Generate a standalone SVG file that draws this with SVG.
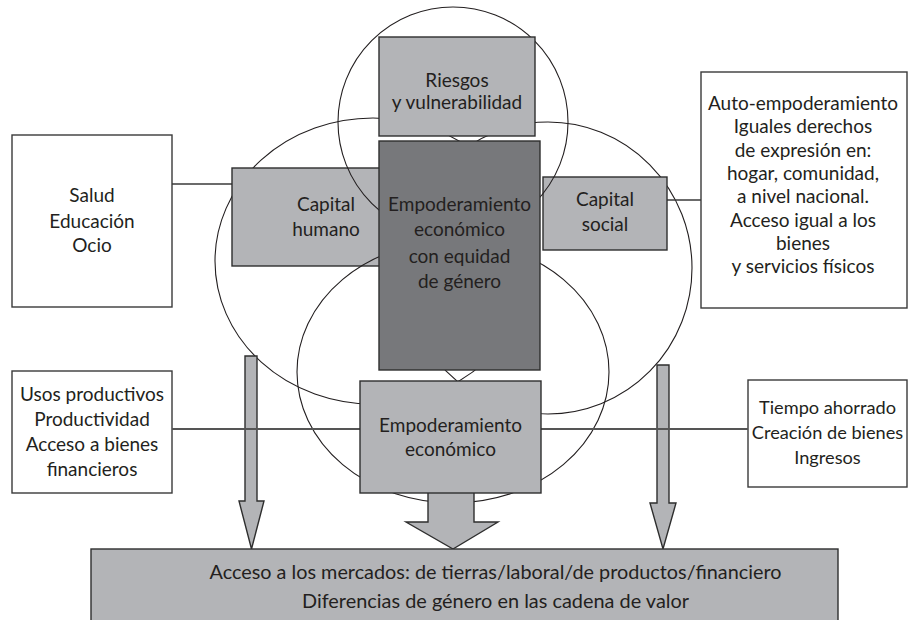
<svg xmlns="http://www.w3.org/2000/svg" width="922" height="620" viewBox="0 0 922 620">
<style>
.t{font-family:Lato,"Liberation Sans",sans-serif;font-size:19px;fill:#231f20;text-anchor:middle}
.s{font-size:18.2px}
.wb{fill:#fff;stroke:#3a3a3a;stroke-width:1.4}
.gb{fill:#b3b4b7;stroke:#2e2e2e;stroke-width:1.4}
.db{fill:#77787b;stroke:#2e2e2e;stroke-width:1.4}
.ring{fill:none;stroke:#231f20;stroke-width:1.1}
.ln{stroke:#3a3a3a;stroke-width:1.3;fill:none}
.hl{stroke:#555;stroke-width:1.8;fill:none}
.ar{fill:#b3b4b7;stroke:#2e2e2e;stroke-width:1.4}
</style>
<rect width="922" height="620" fill="#fff"/>
<g id="rings-back">
<ellipse class="ring" cx="373" cy="261" rx="158" ry="143"/>
<ellipse class="ring" cx="548" cy="268" rx="144" ry="146"/>
</g>
<g id="connectors">
<line class="ln" x1="172" y1="184" x2="232" y2="184"/>
<line class="ln" x1="667" y1="200" x2="701" y2="200"/>
</g>
<g id="salud"><rect class="wb" x="12" y="135" width="160" height="172"/>
<text class="t" x="92" y="202">Salud</text><text class="t" x="92" y="228">Educación</text><text class="t" x="92" y="252">Ocio</text></g>
<g id="autoemp"><rect class="wb" x="701" y="72" width="206" height="236"/>
<text class="t" x="803" y="110">Auto-empoderamiento</text>
<text class="t" x="803" y="133">Iguales derechos</text>
<text class="t" x="803" y="157">de expresión en:</text>
<text class="t" x="803" y="180">hogar, comunidad,</text>
<text class="t" x="803" y="203">a nivel nacional.</text>
<text class="t" x="803" y="227">Acceso igual a los</text>
<text class="t" x="803" y="250">bienes</text>
<text class="t" x="803" y="273">y servicios físicos</text></g>
<g id="capital-humano"><rect class="gb" x="232" y="168" width="188" height="98"/>
<text class="t" x="326" y="211">Capital</text><text class="t" x="326" y="236">humano</text></g>
<g id="capital-social"><rect class="gb" x="543" y="177" width="124" height="73"/>
<text class="t" x="605" y="206">Capital</text><text class="t" x="605" y="231">social</text></g>
<g id="rings-front">
<circle class="ring" cx="453" cy="122" r="115"/>
<ellipse class="ring" cx="453" cy="372" rx="156" ry="131"/>
</g>
<g id="riesgos"><rect class="gb" x="379" y="37" width="156" height="99"/>
<text class="t" x="457" y="87">Riesgos</text><text class="t" x="457" y="109">y vulnerabilidad</text></g>
<g id="equidad"><rect class="db" x="379" y="141" width="161" height="229"/>
<text class="t" x="459.5" y="211">Empoderamiento</text>
<text class="t" x="459.5" y="236">económico</text>
<text class="t" x="459.5" y="263">con equidad</text>
<text class="t" x="459.5" y="288">de género</text></g>
<g id="usos"><rect class="wb" x="12" y="371" width="160" height="122"/>
<text class="t" x="92" y="401">Usos productivos</text>
<text class="t" x="92" y="426">Productividad</text>
<text class="t" x="92" y="451">Acceso a bienes</text>
<text class="t" x="92" y="476">financieros</text></g>
<g id="tiempo"><rect class="wb" x="748" y="380" width="159" height="107"/>
<text class="t s" x="827.5" y="414">Tiempo ahorrado</text>
<text class="t s" x="827.5" y="439">Creación de bienes</text>
<text class="t s" x="827.5" y="464">Ingresos</text></g>
<g id="arrows">
<polygon class="ar" points="245,356 257,356 257,501 264,501 251.5,549 239,501 245,501"/>
<polygon class="ar" points="657,365 669,365 669,503 676,503 663,549 650,503 657,503"/>
<polygon class="ar" points="428,490 474,490 474,522 498,522 453,549 406,522 428,522"/>
</g>
<g id="hline"><line class="hl" x1="172" y1="429" x2="748" y2="429"/></g>
<g id="econ"><rect class="gb" x="360" y="381" width="181" height="112"/>
<text class="t" x="450.5" y="432">Empoderamiento</text>
<text class="t" x="450.5" y="456">económico</text></g>
<g id="mercados"><rect class="gb" x="91" y="549" width="747" height="80"/>
<text class="t" x="495.5" y="579" textLength="572" lengthAdjust="spacingAndGlyphs">Acceso a los mercados: de tierras/laboral/de productos/financiero</text>
<text class="t" x="495.5" y="608" textLength="387" lengthAdjust="spacingAndGlyphs">Diferencias de género en las cadena de valor</text></g>
</svg>
